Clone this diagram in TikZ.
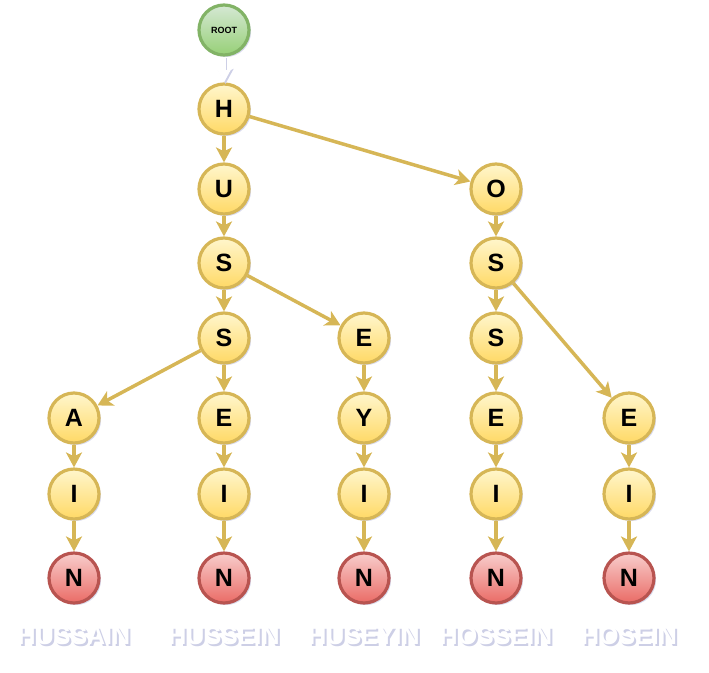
\documentclass[tikz,border=0pt]{standalone}
\usepackage{fontspec}
\setmainfont{Liberation Sans}
\usetikzlibrary{positioning,arrows.meta,shadows}
\definecolor{letterC}{HTML}{D6B656}
\definecolor{letterTopC}{HTML}{FFF6CC}
\definecolor{letterBotC}{HTML}{FFD966}
\definecolor{endC}{HTML}{B85450}
\definecolor{endTopC}{HTML}{F8CECC}
\definecolor{endBotC}{HTML}{EA6B66}
\definecolor{rootC}{HTML}{82B366}
\definecolor{rootTopC}{HTML}{D5E8D4}
\definecolor{rootBotC}{HTML}{97D077}
\definecolor{shadeC}{HTML}{CDCFE6}

\begin{document}
\begin{tikzpicture}[
  >={Stealth[length=15pt,width=16pt,inset=4pt]},
  on grid,
  letter/.style={circle, draw=letterC, line width=3.2pt,
                 top color=letterTopC, bottom color=letterBotC,
                 minimum size=50pt, inner sep=0pt,
                 font=\bfseries\fontsize{25}{25}\selectfont,
                 drop shadow={shadow xshift=2pt, shadow yshift=-2pt,
                              fill=shadeC, opacity=0.8}},
  endletter/.style={letter, draw=endC,
                    top color=endTopC, bottom color=endBotC},
  rootnode/.style={letter, draw=rootC,
                   top color=rootTopC, bottom color=rootBotC,
                   font=\bfseries\fontsize{9}{9}\selectfont},
  link/.style={->, draw=letterC, fill=letterC, line width=3.5pt},
  rootlink/.style={->, draw=white, fill=white, line width=3.5pt},
  rootshadow/.style={rootlink, draw=shadeC, fill=shadeC},
  tag/.style={font=\bfseries\fontsize{25}{25}\selectfont, text=white},
]
\useasboundingbox (0,0) rectangle (709pt,-672pt);

% ── Root ──
\node[rootnode] (root) at (224pt,-30pt) {ROOT};

% ── Main stem H-U-S-S ──
\node[letter, below=79pt of root] (h) {H};
\node[letter, below=80pt of h] (u) {U};
\node[letter, below=74pt of u] (s1) {S};
\node[letter, below=75pt of s1] (s2) {S};

% ── HUSSAIN ──
\node[letter, below left=80pt and 150pt of s2] (a) {A};
\node[letter, below=76pt of a] (i0) {I};
\node[endletter, below=84pt of i0] (n0) {N};

% ── HUSSEIN ──
\node[letter, below=80pt of s2] (e1) {E};
\node[letter, below=76pt of e1] (i1) {I};
\node[endletter, below=84pt of i1] (n1) {N};

% ── HUSEYIN ──
\node[letter, right=140pt of s2] (e2) {E};
\node[letter, below=80pt of e2] (y2) {Y};
\node[letter, below=76pt of y2] (i2) {I};
\node[endletter, below=84pt of i2] (n2) {N};

% ── HOSSEIN ──
\node[letter, right=272pt of u] (o) {O};
\node[letter, below=74pt of o] (s3) {S};
\node[letter, below=75pt of s3] (s4) {S};
\node[letter, below=80pt of s4] (e3) {E};
\node[letter, below=76pt of e3] (i3) {I};
\node[endletter, below=84pt of i3] (n3) {N};

% ── HOSEIN ──
\node[letter, right=133pt of e3] (e4) {E};
\node[letter, below=76pt of e4] (i4) {I};
\node[endletter, below=84pt of i4] (n4) {N};

% ── Links (white root link over its own shadow) ──
\draw[rootshadow] ([shift={(1.5pt,-1.5pt)}]root.south)
  -- ([shift={(1.5pt,-1.5pt)}]h.north);
\draw[rootlink] (root.south) -- (h.north);
\foreach \from/\to in {h/u, h/o, u/s1, s1/s2, s1/e2, s2/a, s2/e1,
                       a/i0, i0/n0, e1/i1, i1/n1, e2/y2, y2/i2, i2/n2,
                       o/s3, s3/s4, s3/e4, s4/e3, e3/i3, i3/n3,
                       e4/i4, i4/n4}
  \draw[link] (\from) -- (\to);

% ── Word labels (white text over a soft shadow copy) ──
\foreach \leaf/\word in {n0/HUSSAIN, n1/HUSSEIN, n2/HUSEYIN,
                         n3/HOSSEIN, n4/HOSEIN}
  \node[tag, below=59pt of \leaf] (t\leaf)
    {\rlap{\hspace{2pt}\raisebox{-2pt}{\color{shadeC}\word}}\word};

\end{tikzpicture}
\end{document}
